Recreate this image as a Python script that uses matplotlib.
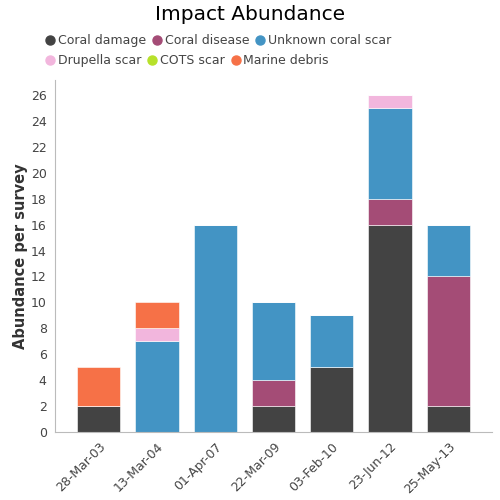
import matplotlib.pyplot as plt
import numpy as np
from matplotlib.lines import Line2D

plt.rcParams['font.family'] = 'DejaVu Sans'

# data
dates = ['28-Mar-03', '13-Mar-04', '01-Apr-07', '22-Mar-09', '03-Feb-10', '23-Jun-12', '25-May-13']
coral_damage = [2, 0, 0, 2, 5, 16, 2]
coral_disease = [0, 0, 0, 2, 0, 2, 10]
unknown_scar = [0, 7, 16, 6, 4, 7, 4]
drupella_scar = [0, 1, 0, 0, 0, 1, 0]
cots_scar = [0, 0, 0, 0, 0, 0, 0]
marine_debris = [3, 2, 0, 0, 0, 0, 0]

series = [
    ('Coral damage', coral_damage, '#434343'),
    ('Coral disease', coral_disease, '#a44c76'),
    ('Unknown coral scar', unknown_scar, '#4394c4'),
    ('Drupella scar', drupella_scar, '#f2b6dd'),
    ('COTS scar', cots_scar, '#b7e12b'),
    ('Marine debris', marine_debris, '#f67147'),
]

fig = plt.figure(figsize=(5, 5), dpi=100)
ax = fig.add_axes([0.11, 0.136, 0.874, 0.705])

x = np.arange(len(dates))
bottom = np.zeros(len(dates))
handles = []
for name, vals, color in series:
    vals = np.array(vals, dtype=float)
    ax.bar(x, vals, 0.74, bottom=bottom, color=color, edgecolor='white',
           linewidth=0.4, zorder=2)
    bottom += vals
    handles.append(Line2D([], [], marker='o', linestyle='', markersize=6.5,
                          markerfacecolor=color, markeredgecolor=color, label=name))

ax.set_xlim(-0.75, 6.75)
ax.set_ylim(0, 27.2)
ax.set_yticks(range(0, 27, 2))
ax.set_xticks(x)
ax.set_xticklabels(dates, rotation=45, ha='right', rotation_mode='anchor')
ax.tick_params(axis='both', length=0, labelsize=9, colors='#444444', pad=6)
for s in ['top', 'right']:
    ax.spines[s].set_visible(False)
for s in ['left', 'bottom']:
    ax.spines[s].set_color('#bbbbbb')

ax.set_ylabel('Abundance per survey', fontsize=10.5, color='#333333', fontweight='semibold',
              labelpad=2)

fig.text(0.5, 0.972, 'Impact Abundance', ha='center', va='center', fontsize=14.5, color='black')

leg_kw = dict(loc='upper left', frameon=False, fontsize=9, handletextpad=0.1,
              columnspacing=0.4, borderaxespad=0, handlelength=1.0, labelcolor='#444444')
leg1 = fig.legend(handles=handles[:3], ncol=3, bbox_to_anchor=(0.078, 0.942), **leg_kw)
leg2 = fig.legend(handles=handles[3:], ncol=3, bbox_to_anchor=(0.078, 0.902), **leg_kw)

plt.savefig('out.png', dpi=100, facecolor='white')
plt.close()
